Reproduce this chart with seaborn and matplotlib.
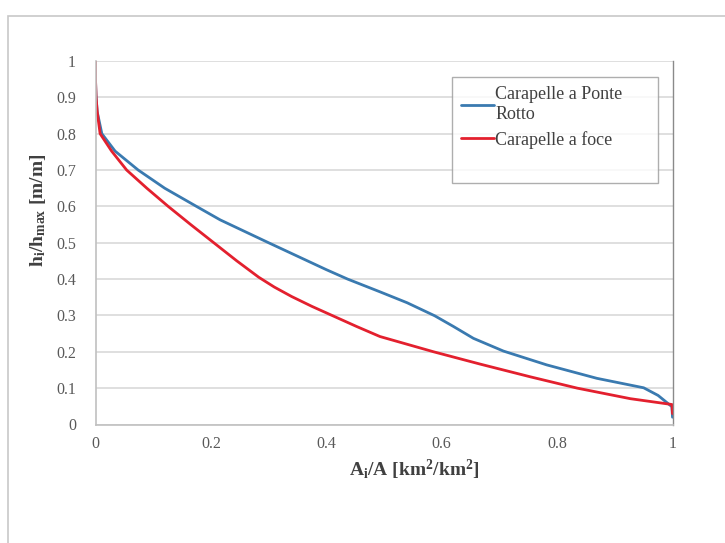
import matplotlib
matplotlib.use("Agg")
import matplotlib.pyplot as plt
import matplotlib.patches as mpatches
import seaborn as sns
import pandas as pd

# Hypsometric curves: relative area vs relative elevation
ponte_rotto_x = [0.0, 0.0, 0.001, 0.003, 0.011, 0.034, 0.074, 0.12, 0.175, 0.216,
                 0.3, 0.4, 0.437, 0.493, 0.54, 0.588, 0.62, 0.655, 0.707, 0.782,
                 0.869, 0.95, 0.975, 0.999, 1.0]
ponte_rotto_y = [1.0, 0.95, 0.9, 0.86, 0.8, 0.752, 0.7, 0.65, 0.6, 0.563,
                 0.5, 0.426, 0.4, 0.365, 0.335, 0.299, 0.27, 0.237, 0.202, 0.164,
                 0.127, 0.101, 0.08, 0.049, 0.02]

foce_x = [0.0, 0.0, 0.001, 0.003, 0.008, 0.028, 0.054, 0.089, 0.126, 0.165,
          0.205, 0.245, 0.283, 0.31, 0.34, 0.375, 0.41, 0.452, 0.493, 0.586,
          0.667, 0.754, 0.835, 0.927, 0.999, 1.0]
foce_y = [1.0, 0.95, 0.9, 0.86, 0.8, 0.752, 0.7, 0.65, 0.6, 0.55,
          0.5, 0.45, 0.405, 0.378, 0.352, 0.325, 0.3, 0.27, 0.242, 0.2,
          0.166, 0.131, 0.1, 0.071, 0.055, 0.03]

series_names = ["Carapelle a Ponte\nRotto", "Carapelle a foce"]
x_ticks = [0, 0.2, 0.4, 0.6, 0.8, 1]
x_tick_labels = ["0", "0.2", "0.4", "0.6", "0.8", "1"]
y_ticks = [0, 0.1, 0.2, 0.3, 0.4, 0.5, 0.6, 0.7, 0.8, 0.9, 1]
y_tick_labels = ["0", "0.1", "0.2", "0.3", "0.4", "0.5", "0.6", "0.7", "0.8", "0.9", "1"]

curves = [
    pd.DataFrame({"x": ponte_rotto_x, "y": ponte_rotto_y}),
    pd.DataFrame({"x": foce_x, "y": foce_y}),
]
colors = ["#3a7ab0", "#e3202e"]

sns.set_theme(style="white")
plt.rcParams["font.family"] = ["Liberation Serif", "DejaVu Serif"]
plt.rcParams["mathtext.fontset"] = "custom"
plt.rcParams["mathtext.rm"] = "Liberation Serif"
plt.rcParams["mathtext.it"] = "Liberation Serif"
plt.rcParams["mathtext.bf"] = "Liberation Serif:bold"

fig = plt.figure(figsize=(7.25, 5.43), dpi=100)
ax = fig.add_axes([95.5 / 725, 1 - 424.5 / 543, 577 / 725, 363.5 / 543])

# chart-area frame
fig.patches.append(mpatches.Rectangle((8 / 725, -0.2), 1.2, 1 - 16 / 543 + 0.2,
                                      transform=fig.transFigure, fill=False,
                                      edgecolor="#c8c8c8", linewidth=1.2))

for data, color in zip(curves, colors):
    sns.lineplot(data=data, x="x", y="y", sort=False, estimator=None,
                 color=color, linewidth=2.0, ax=ax)

ax.set_xlim(0, 1)
ax.set_ylim(0, 1)
ax.set_xticks(x_ticks)
ax.set_xticklabels(x_tick_labels)
ax.set_yticks(y_ticks)
ax.set_yticklabels(y_tick_labels)
ax.tick_params(axis="both", length=0, labelsize=11.5, labelcolor="#595959")
ax.tick_params(axis="x", pad=8)
ax.tick_params(axis="y", pad=14)
ax.yaxis.grid(True, color="#d9d9d9", linewidth=1.2)
ax.xaxis.grid(False)
ax.set_axisbelow(True)

for side in ["left", "bottom"]:
    ax.spines[side].set_color("#c0c0c0")
    ax.spines[side].set_linewidth(1.2)
ax.spines["top"].set_visible(False)
ax.spines["right"].set_color("#8a8a8a")
ax.spines["right"].set_linewidth(1.0)

ax.set_xlabel(r"A$_\mathregular{i}$/A [km$^\mathregular{2}$/km$^\mathregular{2}$]",
              fontsize=14, fontweight="bold", color="#404040")
ax.xaxis.set_label_coords((414 - 95.5) / 577, -(470 - 424.5) / 363.5)
ax.xaxis.label.set_va("center")
ax.set_ylabel(r"h$_\mathregular{i}$/h$_\mathregular{max}$ [m/m]",
              fontsize=14, fontweight="bold", color="#404040")
ax.yaxis.set_label_coords(-(95.5 - 38) / 577, (424.5 - 210) / 363.5)
ax.yaxis.label.set_va("center")

handles = [plt.Line2D([], [], color=c, linewidth=2.0) for c in colors]
handles.append(plt.Line2D([], [], color="none"))
labels = series_names + [""]
box_x0 = (452 - 95.5) / 577
box_w = (658 - 452) / 577
box_top = (424.5 - 77) / 363.5
leg = ax.legend(handles, labels, loc="upper left",
                bbox_to_anchor=(box_x0, box_top - 0.3, box_w, 0.3), mode="expand",
                borderaxespad=0, frameon=True, fancybox=False, fontsize=13,
                handlelength=1.8, handletextpad=0.1, borderpad=0.5,
                labelspacing=0.45)
leg.get_frame().set_edgecolor("#9a9a9a")
leg.get_frame().set_linewidth(1.0)
for t in leg.get_texts():
    t.set_color("#404040")
    t.set_linespacing(1.2)

fig.savefig("out.png", dpi=100, facecolor="white")
